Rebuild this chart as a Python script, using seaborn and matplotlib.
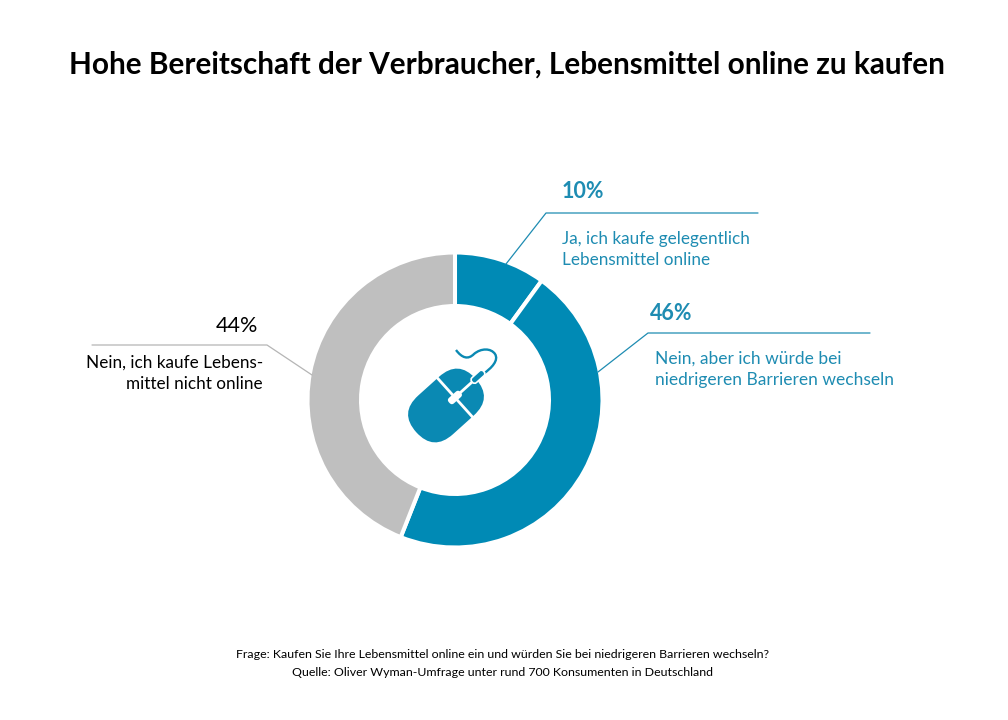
import matplotlib.pyplot as plt
import seaborn as sns
from matplotlib.patches import FancyBboxPatch, PathPatch
from matplotlib.path import Path
from matplotlib.transforms import Affine2D

sns.set_theme(style="white")
plt.rcParams["font.family"] = ["Lato", "DejaVu Sans"]

labels = ["Ja, ich kaufe gelegentlich\nLebensmittel online",
          "Nein, aber ich würde bei\nniedrigeren Barrieren wechseln",
          "Nein, ich kaufe Lebens-\nmittel nicht online"]
shares = [10, 46, 44]
pct_labels = ["10%", "46%", "44%"]
colors = ["#008AB5", "#008AB5", "#BFBFBF"]
TEAL = "#1E8CB2"
ICON = "#0A89B3"
H = 720


def py(y):
    # picture rows run downwards
    return H - y


fig = plt.figure(figsize=(10.08, 7.2), dpi=100)
ax = fig.add_axes([0, 0, 1, 1])

ax.pie(shares, colors=colors, startangle=90, counterclock=False,
       center=(455, py(400)), radius=147.5, frame=True,
       wedgeprops={"width": 53.5, "edgecolor": "white", "linewidth": 2.9})
ax.set_xlim(0, 1008)
ax.set_ylim(0, H)
ax.axis("off")

ax.text(507, py(65), "Hohe Bereitschaft der Verbraucher, Lebensmittel online zu kaufen",
        ha="center", va="center", fontsize=21.4, fontweight="bold", color="black")

# leader lines
ax.plot([506, 546, 758], [py(264), py(213), py(213)], color=TEAL, lw=0.9)
ax.plot([598, 648, 870], [py(372), py(333), py(333)], color=TEAL, lw=0.9)
ax.plot([92, 267, 312], [py(345), py(345), py(375)], color="#B5B5B5", lw=0.9)

# labels
ax.text(562, py(191), pct_labels[0], color=TEAL, fontsize=15.5, fontweight="bold", va="center")
ax.text(562, py(249.5), labels[0], color=TEAL, fontsize=12.3, va="center", linespacing=1.45)
ax.text(650, py(313), pct_labels[1], color=TEAL, fontsize=15.5, fontweight="bold", va="center")
ax.text(655, py(369.5), labels[1], color=TEAL, fontsize=12.5, va="center", linespacing=1.45)
ax.text(258, py(326), pct_labels[2], color="black", fontsize=15.5, ha="right", va="center")
ax.text(263, py(373.5), labels[2], color="black", fontsize=12.3, ha="right", va="center",
        multialignment="right", linespacing=1.38)

ax.text(502, py(655), "Frage: Kaufen Sie Ihre Lebensmittel online ein und würden Sie bei niedrigeren Barrieren wechseln?",
        ha="center", va="center", fontsize=8.9, color="black")
ax.text(502, py(672), "Quelle: Oliver Wyman-Umfrage unter rund 700 Konsumenten in Deutschland",
        ha="center", va="center", fontsize=8.9, color="black")

# mouse icon, drawn along its long axis and then turned
cx, cy = 446, py(405.5)
turn = Affine2D().rotate_deg(42).translate(cx, cy) + ax.transData
ax.add_patch(FancyBboxPatch((-14, 0), 28, 0.01, boxstyle="round,pad=26,rounding_size=26",
                            fc=ICON, ec="none", transform=turn, zorder=3))
ax.plot([14, 36], [0, 0], color="white", lw=2.0, transform=turn, zorder=4, solid_capstyle="butt")
ax.plot([12, 12], [-30, 30], color="white", lw=2.0, transform=turn, zorder=4, solid_capstyle="butt")
ax.add_patch(FancyBboxPatch((7.5, -0.5), 9, 1, boxstyle="round,pad=3.2,rounding_size=3.2",
                            fc="white", ec="none", transform=turn, zorder=5))
ax.add_patch(FancyBboxPatch((38, -0.5), 10, 1, boxstyle="round,pad=2.8,rounding_size=2.8",
                            fc=ICON, ec="white", lw=1.2, transform=turn, zorder=5))
cable = Path([(483, py(374)), (492, py(368)), (499, py(360)), (495, py(354)),
              (491, py(348)), (481, py(348)), (474, py(354)),
              (468, py(360)), (462, py(358)), (456, py(350))],
             [Path.MOVETO] + [Path.CURVE4] * 9)
ax.add_patch(PathPatch(cable, fc="none", ec=ICON, lw=1.7, zorder=3))

fig.savefig("out.png", dpi=100, facecolor="white")
